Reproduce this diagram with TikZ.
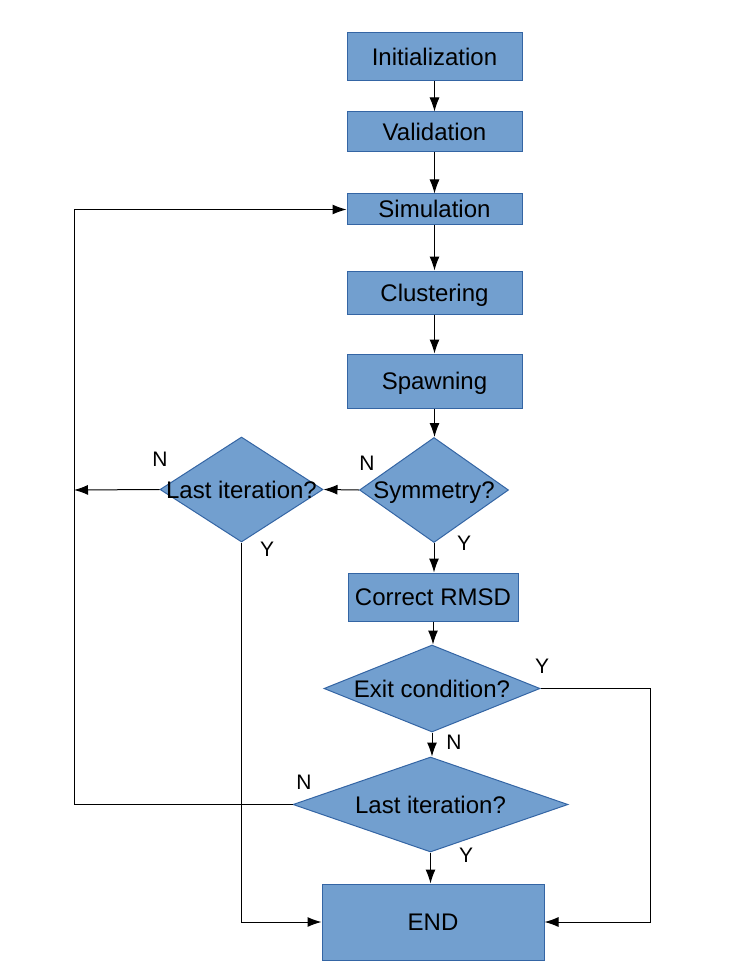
\documentclass[tikz,border=0pt]{standalone}
\usepackage{fontspec}
\setmainfont{Liberation Sans}
\usetikzlibrary{arrows.meta,shapes.geometric}
\definecolor{boxfill}{HTML}{729FCF}
\definecolor{boxline}{HTML}{3465A4}
\newcommand{\ctrtext}[1]{\makebox[0pt]{#1}}

\begin{document}
\begin{tikzpicture}[
                            x=1pt, y=-1pt,
                            >={Latex[length=14pt,width=10pt]},
                            line width=1pt,
                            font=\fontsize{24}{28}\selectfont
                        ]
                        \tikzstyle{stepbox}=[rectangle,fill=boxfill,draw=boxline,minimum width=175pt,inner sep=0pt,text height=17pt,text depth=0pt]
                        \tikzstyle{decision}=[diamond,fill=boxfill,draw=boxline,inner sep=0pt,text height=17pt,text depth=0pt]
                        \tikzstyle{answer}=[font=\fontsize{21}{24}\selectfont,inner sep=0pt]

                        \useasboundingbox (0,0) rectangle (748,968);

                        \node[stepbox,minimum height=48pt] (init)  at (434.5,57)    {Initialization};
                        \node[stepbox,minimum height=40pt] (valid) at (434.5,132)   {Validation};
                        \node[stepbox,minimum height=31pt] (sim)   at (434.5,209.5) {Simulation};
                        \node[stepbox,minimum height=43pt] (clust) at (434.5,292.5) {Clustering};
                        \node[stepbox,minimum height=54pt] (spawn) at (434.5,381)   {Spawning};
                        \node[decision,minimum width=149pt,minimum height=105pt] (sym)   at (434,490)   {\ctrtext{Symmetry?}};
                        \node[decision,minimum width=163pt,minimum height=105pt] (last1) at (241.5,489.5) {\ctrtext{Last iteration?}};
                        \node[stepbox,minimum width=170pt,minimum height=48pt] (rmsd)  at (433,597)   {Correct RMSD};
                        \node[decision,minimum width=216pt,minimum height=87pt]  (exit)  at (432,688.5) {\ctrtext{Exit condition?}};
                        \node[decision,minimum width=275pt,minimum height=95pt]  (last2) at (430.5,804.5) {\ctrtext{Last iteration?}};
                        \node[stepbox,minimum width=222pt,minimum height=76pt] (end)   at (433,922)   {END};

                        \coordinate (leftx)  at (74,490);
                        \coordinate (rightx) at (650,688.5);

                        % main column
                        \draw[->] (init)  -- (valid);
                        \draw[->] (valid) -- (sim);
                        \draw[->] (sim)   -- (clust);
                        \draw[->] (clust) -- (spawn);
                        \draw[->] (spawn.south) -- (spawn.south |- sym.north);
                        \draw[->] (sym.south)   -- (sym.south |- rmsd.north);
                        \draw[->] (rmsd.south)  -- (rmsd.south |- exit.north);
                        \draw[->] (exit.south)  -- (exit.south |- last2.north);
                        \draw[->] (last2.south) -- (last2.south |- end.north);

                        % side branches
                        \draw[->] (sym.west)   -- (last1.east);
                        \draw[->] (last1.west) -- (leftx);
                        \draw[->] (last2.west) -- (last2.west -| leftx) |- (sim.west);
                        \draw[->] (last1.south) |- (end.west);
                        \draw[->] (exit.east) -- (rightx) |- (end.east);

                        \node[answer] (n1) at (160,459) {N};
                        \node[answer] (y1) at (267,549) {Y};
                        \node[answer] (n2) at (367,463) {N};
                        \node[answer] (y2) at (464,543) {Y};
                        \node[answer] (y3) at (542,666) {Y};
                        \node[answer] (n3) at (454,742) {N};
                        \node[answer] (n4) at (304,782) {N};
                        \node[answer] (y4) at (466,855) {Y};
                    \end{tikzpicture}
\end{document}
